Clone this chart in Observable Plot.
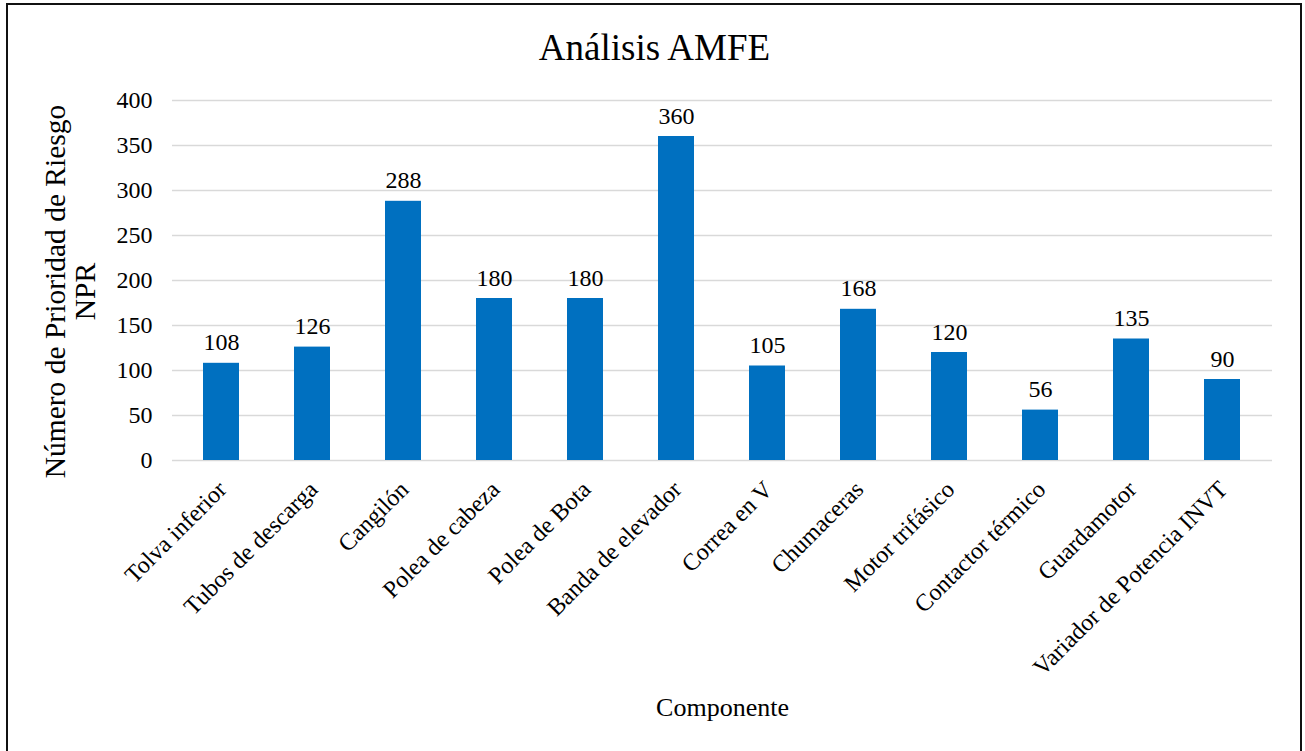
<!DOCTYPE html>
<html lang="es">
<head>
<meta charset="utf-8">
<script src="https://cdn.jsdelivr.net/npm/d3@7"></script>
<script src="https://cdn.jsdelivr.net/npm/@observablehq/plot@0.6"></script>
<style>
  html, body { margin: 0; padding: 0; background: #fff; overflow: hidden; }
  #wrap { position: relative; width: 1305px; height: 751px; }
  #wrap svg { position: absolute; left: 0; top: 0; }
  #wrap svg text { font-family: 'Liberation Serif', 'Times New Roman', Times, serif; font-variant-numeric: normal; font-variant: normal; }
  #marco {
    position: absolute; left: 6px; top: 3px; width: 1292px; height: 800px;
    border: 2px solid #111; box-sizing: content-box; pointer-events: none;
  }
</style>
</head>
<body>
<div id="wrap"><div id="marco"></div></div>
<script>
// Componentes del elevador y su número de prioridad de riesgo (NPR)
const componentes = [
  "Tolva inferior", "Tubos de descarga", "Cangilón", "Polea de cabeza",
  "Polea de Bota", "Banda de elevador", "Correa en V", "Chumaceras",
  "Motor trifásico", "Contactor térmico", "Guardamotor", "Variador de Potencia INVT"
];
const npr = [108, 126, 288, 180, 180, 360, 105, 168, 120, 56, 135, 90];
const ticksY = [0, 50, 100, 150, 200, 250, 300, 350, 400];

const titulo = "Análisis AMFE";
const tituloY = "Número de Prioridad de Riesgo\nNPR";
const tituloX = "Componente";

const datos = componentes.map((c, i) => ({componente: c, npr: npr[i]}));

const serif = "'Liberation Serif', 'Times New Roman', Times, serif";

const chart = Plot.plot({
  width: 1305,
  height: 751,
  marginLeft: 172,
  marginRight: 33,
  marginTop: 100,
  marginBottom: 291,
  style: {fontFamily: serif, fontSize: "24px", color: "#000", background: "transparent", overflow: "visible"},
  x: {domain: componentes, paddingInner: 0.6, paddingOuter: 0.3, label: null},
  y: {domain: [0, 400], label: null},
  marks: [
    Plot.gridY(ticksY, {stroke: "#d9d9d9", strokeOpacity: 1, strokeWidth: 1.5}),
    Plot.barY(datos, {x: "componente", y: "npr", fill: "#0070C0"}),
    Plot.text(datos, {
      x: "componente", y: "npr", text: d => String(d.npr),
      lineAnchor: "bottom", dy: -13, fontSize: 24, fontFamily: serif, fontVariant: "normal", fill: "#000"
    }),
    Plot.axisY({ticks: ticksY, tickSize: 0, tickPadding: 20, fontSize: 24, fontFamily: serif, fontVariant: "normal", label: null}),
    Plot.axisX({tickRotate: -45, tickSize: 0, tickPadding: 25, dx: 1, fontSize: 24, fontFamily: serif, label: null}),
    Plot.text([titulo], {
      frameAnchor: "top", dx: -68, dy: -41, lineAnchor: "bottom", fontSize: 37, fontFamily: serif, fill: "#000"
    }),
    Plot.text([tituloY], {
      frameAnchor: "left", rotate: -90, dx: -102, dy: 11,
      textAnchor: "middle", lineAnchor: "middle", lineHeight: 1.03, fontSize: 29.5, fontFamily: serif, fill: "#000"
    }),
    Plot.text([tituloX], {
      frameAnchor: "bottom", dy: 255, lineAnchor: "bottom", fontSize: 26, fontFamily: serif, fill: "#000"
    })
  ]
});

document.getElementById("wrap").prepend(chart);
</script>
</body>
</html>
